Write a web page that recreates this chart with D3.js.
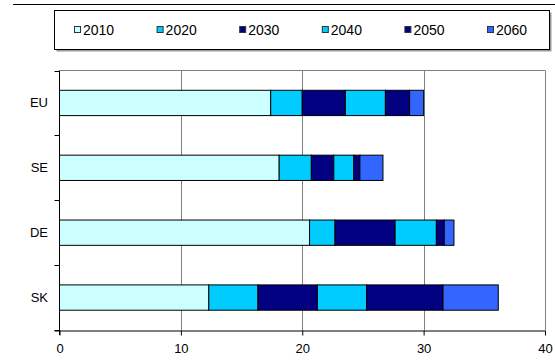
<!DOCTYPE html>
<html>
<head>
<meta charset="utf-8">
<script src="https://cdn.jsdelivr.net/npm/d3@7"></script>
<style>
  html, body { margin: 0; padding: 0; background: #fff; }
  svg { display: block; font-family: "Liberation Sans", Arial, sans-serif; }
</style>
</head>
<body>
<svg id="chart" width="555" height="362"></svg>
<script>
const categories = ["EU", "SE", "DE", "SK"];
const years = ["2010", "2020", "2030", "2040", "2050", "2060"];
const v2010 = [17.4, 18.1, 20.6, 12.3];
const v2020 = [2.6, 2.65, 2.1, 4.05];
const v2030 = [3.55, 1.85, 4.95, 4.9];
const v2040 = [3.3, 1.65, 3.4, 4.05];
const v2050 = [2.0, 0.5, 0.65, 6.3];
const v2060 = [1.15, 1.9, 0.8, 4.55];
const xTicks = [0, 10, 20, 30, 40];
const colors = ["#CCFFFF", "#00CCFF", "#000080", "#00CCFF", "#000080", "#3366FF"];

const series = [v2010, v2020, v2030, v2040, v2050, v2060];
const rows = categories.map((c, i) => {
  const r = { cat: c };
  years.forEach((y, k) => r[y] = series[k][i]);
  return r;
});

const svg = d3.select("#chart");
const x = d3.scaleLinear().domain([0, 40]).range([59.5, 545]);
const y = d3.scaleBand().domain(categories).range([70.5, 330]).paddingInner(0.61).paddingOuter(0.305);
const color = d3.scaleOrdinal().domain(years).range(colors);

// top rule
svg.append("line").attr("x1", 13).attr("x2", 555).attr("y1", 4.5).attr("y2", 4.5)
  .attr("stroke", "#000").attr("stroke-width", 1);

// legend
const lg = svg.append("g");
lg.append("rect").attr("x", 56.5).attr("y", 12.5).attr("width", 495).attr("height", 39).attr("fill", "#999");
lg.append("rect").attr("x", 54.5).attr("y", 10.5).attr("width", 495).attr("height", 39)
  .attr("fill", "#fff").attr("stroke", "#000").attr("stroke-width", 1);
const legendX = d3.scalePoint().domain(years).range([74, 487]);
years.forEach(yr => {
  const gx = legendX(yr);
  lg.append("rect").attr("x", gx + 0.5).attr("y", 26.5).attr("width", 6).attr("height", 6)
    .attr("fill", color(yr)).attr("stroke", "#333").attr("stroke-width", 1);
  lg.append("text").attr("x", gx + 9).attr("y", 30).attr("dy", "0.35em")
    .attr("font-size", 14).attr("fill", "#000").text(yr);
});

// plot border (top) and gridlines
svg.append("line").attr("x1", x(0)).attr("x2", x(40)).attr("y1", 70.5).attr("y2", 70.5)
  .attr("stroke", "#808080").attr("stroke-width", 1);
svg.append("g").selectAll("line").data(xTicks.filter(d => d > 0)).join("line")
  .attr("x1", d => Math.round(x(d)) + 0.5).attr("x2", d => Math.round(x(d)) + 0.5)
  .attr("y1", 70.5).attr("y2", 330)
  .attr("stroke", "#808080").attr("stroke-width", 1);

// bars
const stack = d3.stack().keys(years);
const stacked = stack(rows);
svg.append("g").selectAll("g").data(stacked).join("g")
  .attr("fill", d => color(d.key))
  .selectAll("rect").data(d => d).join("rect")
  .attr("x", d => x(d[0]))
  .attr("width", d => x(d[1]) - x(d[0]))
  .attr("y", d => y(d.data.cat))
  .attr("height", y.bandwidth())
  .attr("stroke", "#000").attr("stroke-width", 1);

// x axis
const xAxis = d3.axisBottom(x).tickValues(xTicks).tickSize(5).tickPadding(8).tickSizeOuter(0);
const gx = svg.append("g").attr("transform", "translate(0,330.5)").call(xAxis);
gx.select(".domain").attr("d", `M${x(0) - 5},0.5H${x(40)}`).attr("stroke", "#000");
gx.selectAll("text").attr("font-size", 13).attr("font-family", "Liberation Sans, Arial, sans-serif").attr("fill", "#000");
gx.selectAll(".tick line").attr("stroke", "#000");

// y axis
svg.append("line").attr("x1", x(0)).attr("x2", x(0)).attr("y1", 70.5).attr("y2", 335)
  .attr("stroke", "#000").attr("stroke-width", 1);
const bounds = d3.range(categories.length + 1).map(i => 70.5 + i * y.step());
svg.append("g").selectAll("line").data(bounds).join("line")
  .attr("x1", x(0) - 5).attr("x2", x(0))
  .attr("y1", d => Math.round(d) + 0.5).attr("y2", d => Math.round(d) + 0.5)
  .attr("stroke", "#000").attr("stroke-width", 1);
svg.append("g").selectAll("text").data(categories).join("text")
  .attr("x", 48).attr("y", d => y(d) + y.bandwidth() / 2).attr("dy", "0.35em")
  .attr("text-anchor", "end").attr("font-size", 13).attr("fill", "#000").text(d => d);
</script>
</body>
</html>
